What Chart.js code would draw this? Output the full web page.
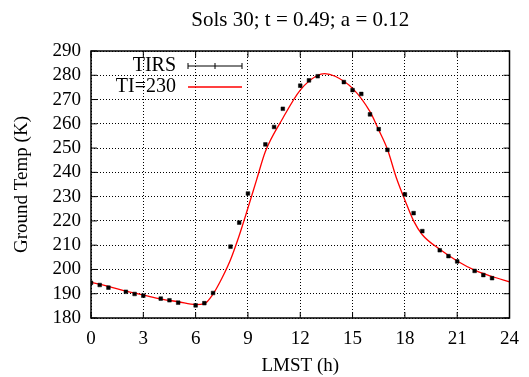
<!DOCTYPE html>
<html>
<head>
<meta charset="utf-8">
<script src="https://cdn.jsdelivr.net/npm/chart.js@4.4.1/dist/chart.umd.min.js"></script>
<style>
  html, body { margin: 0; padding: 0; background: #fff; }
  #chart1 { display: block; }
</style>
</head>
<body>
<canvas id="chart1" width="529" height="377"></canvas>
<script>
// TIRS measurements (hour LMST, ground temperature K)
const tirsHours = [0, 0.5, 1, 2, 2.5, 3, 4, 4.5, 5, 6, 6.5, 7, 8, 8.5, 9, 10, 10.5, 11, 12, 12.5, 13,
  14.5, 15, 15.5, 16, 16.5, 17, 18, 18.5, 19, 20, 20.5, 21, 22, 22.5, 23]
const tirsTemp = [194.5, 193.6, 192.5, 190.8, 189.9, 189.2, 188.0, 187.3, 186.3, 185.2, 186.1, 190.3,
  209.4, 219.3, 231.3, 251.5, 258.7, 266.2, 275.7, 277.9, 279.6, 277.2, 273.9, 272.3, 263.9, 257.8,
  249.3, 230.9, 223.2, 215.8, 207.9, 205.5, 203.3, 199.4, 197.7, 196.4]

// model curve TI=230
const modelHours = [0, 1, 2, 3, 4, 5, 6, 6.5, 7, 7.5, 8, 8.5, 9, 9.5, 10, 11, 12, 13, 13.4, 14, 15,
  16, 16.5, 17, 17.5, 18, 18.5, 19, 20, 21, 22, 23, 24]
const modelTemp = [194.7, 193.0, 191.1, 189.5, 187.8, 186.7, 185.5, 185.9, 189.9, 196.3, 204.0, 214.0,
  225.3, 237.0, 248.6, 262.3, 273.9, 280.0, 280.7, 279.6, 274.6, 265.0, 257.5, 249.5, 238.0, 228.6,
  220.0, 214.3, 208.3, 203.5, 199.7, 197.1, 194.9]

const xTicks = [0, 3, 6, 9, 12, 15, 18, 21, 24]
const yTicks = [180, 190, 200, 210, 220, 230, 240, 250, 260, 270, 280, 290]

const titleText = 'Sols 30; t = 0.49; a = 0.12'
const legendLabels = ['TIRS', 'TI=230']

const serif = '"Liberation Serif", "Times New Roman", serif'

const toXY = (xs, ys) => xs.map((x, i) => ({ x: x, y: ys[i] }))

// title, frame, inward tics and legend like the gnuplot original
const framePlugin = {
  id: 'frame',
  afterDraw(chart) {
    const ctx = chart.ctx
    const a = chart.chartArea
    const xs = chart.scales.x
    const ys = chart.scales.y
    ctx.save()
    ctx.strokeStyle = '#000'
    ctx.lineWidth = 1
    ctx.beginPath()
    xTicks.forEach(t => {
      const px = xs.getPixelForValue(t)
      ctx.moveTo(px, a.bottom); ctx.lineTo(px, a.bottom - 6)
      ctx.moveTo(px, a.top); ctx.lineTo(px, a.top + 6)
    })
    yTicks.forEach(t => {
      const py = ys.getPixelForValue(t)
      ctx.moveTo(a.left, py); ctx.lineTo(a.left + 6, py)
      ctx.moveTo(a.right, py); ctx.lineTo(a.right - 6, py)
    })
    ctx.stroke()
    ctx.lineWidth = 1.5
    ctx.strokeRect(a.left, a.top, a.right - a.left, a.bottom - a.top)

    // title
    ctx.fillStyle = '#000'
    ctx.font = '21px ' + serif
    ctx.textAlign = 'center'
    ctx.textBaseline = 'middle'
    ctx.fillText(titleText, (a.left + a.right) / 2, 20)

    // legend
    ctx.font = '20px ' + serif
    ctx.textAlign = 'right'
    ctx.fillText(legendLabels[0], a.left + 85, a.top + 15)
    ctx.fillText(legendLabels[1], a.left + 85, a.top + 36)
    const lx0 = a.left + 97, lx1 = a.left + 151
    const ly0 = a.top + 15, ly1 = a.top + 36
    ctx.lineWidth = 1
    ctx.strokeStyle = '#000'
    ctx.beginPath()
    ctx.moveTo(lx0, ly0); ctx.lineTo(lx1, ly0)
    ;[lx0, (lx0 + lx1) / 2, lx1].forEach(x => { ctx.moveTo(x, ly0 - 3); ctx.lineTo(x, ly0 + 3) })
    ctx.stroke()
    ctx.strokeStyle = '#ff0000'
    ctx.lineWidth = 1.3
    ctx.beginPath()
    ctx.moveTo(lx0, ly1); ctx.lineTo(lx1, ly1)
    ctx.stroke()
    ctx.restore()
  }
}

var ctx = document.getElementById('chart1').getContext('2d')
var data = {
  datasets: [{
    label: legendLabels[1],
    data: toXY(modelHours, modelTemp),
    borderColor: '#ff0000',
    borderWidth: 1.3,
    pointRadius: 0,
    cubicInterpolationMode: 'monotone',
    order: 2
  }, {
    label: legendLabels[0],
    data: toXY(tirsHours, tirsTemp),
    showLine: false,
    pointStyle: 'rect',
    pointRadius: 2.6,
    backgroundColor: '#000',
    borderColor: '#000',
    borderWidth: 0.5,
    order: 1
  }]
}

var chart1 = new Chart(ctx, {
  type: 'line',
  data: data,
  plugins: [framePlugin],
  options: {
    responsive: false,
    animation: false,
    layout: { padding: { top: 51, right: 13, left: 0, bottom: 0 } },
    plugins: {
      legend: { display: false },
      title: { display: false },
      tooltip: { enabled: false }
    },
    scales: {
      x: {
        type: 'linear',
        min: 0,
        max: 24,
        afterFit: s => { s.height = 59 },
        afterBuildTicks: s => { s.ticks = xTicks.map(v => ({ value: v })) },
        ticks: { color: '#000', font: { family: serif, size: 19 }, padding: 10, maxRotation: 0, autoSkip: false },
        grid: { color: '#000', lineWidth: 1, drawTicks: false },
        border: { display: false, dash: [1, 2] },
        title: { display: true, text: 'LMST (h)', color: '#000', font: { family: serif, size: 19 }, padding: { top: 0, bottom: 0 } }
      },
      y: {
        min: 180,
        max: 290,
        afterFit: s => { s.width = 91 },
        afterBuildTicks: s => { s.ticks = yTicks.map(v => ({ value: v })) },
        ticks: { color: '#000', font: { family: serif, size: 19 }, padding: 10, autoSkip: false },
        grid: { color: '#000', lineWidth: 1, drawTicks: false },
        border: { display: false, dash: [1, 2] },
        title: { display: true, text: 'Ground Temp (K)', color: '#000', font: { family: serif, size: 19 }, padding: { top: 11, bottom: 0 } }
      }
    }
  }
})
</script>
</body>
</html>
